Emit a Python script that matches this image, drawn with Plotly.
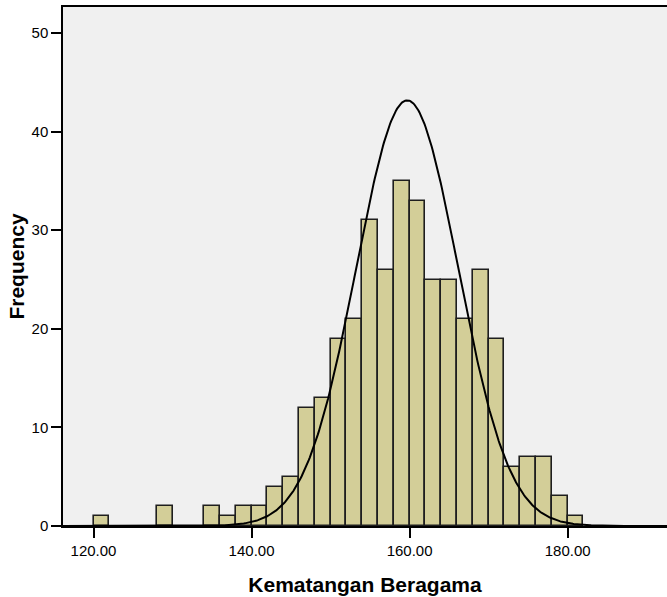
import numpy as np
import plotly.graph_objects as go

# Histogram bins (left edges, width 2) and frequencies
bin_starts = [120, 128, 134, 136, 138, 140, 142, 144, 146, 148, 150, 152, 154,
              156, 158, 160, 162, 164, 166, 168, 170, 172, 174, 176, 178, 180]
frequencies = [1, 2, 2, 1, 2, 2, 4, 5, 12, 13, 19, 21, 31,
               26, 35, 33, 25, 25, 21, 26, 19, 6, 7, 7, 3, 1]
bin_width = 2
x_ticks = [120, 140, 160, 180]
x_tick_labels = ["120.00", "140.00", "160.00", "180.00"]
y_ticks = [0, 10, 20, 30, 40, 50]

# Normal curve parameters (as drawn)
curve_mean = 159.7
curve_sd = 6.45
n_total = sum(frequencies)

centers = [b + bin_width / 2 for b in bin_starts]
xs = np.linspace(116, 193, 600)
ys = n_total * bin_width / (curve_sd * np.sqrt(2 * np.pi)) * np.exp(-0.5 * ((xs - curve_mean) / curve_sd) ** 2)

fig = go.Figure()
fig.add_trace(go.Bar(
    x=centers, y=frequencies, width=[bin_width] * len(centers),
    marker=dict(color="#D3CE98", line=dict(color="#1E1E1E", width=1.6)),
    showlegend=False, hoverinfo="x+y"))
fig.add_trace(go.Scatter(
    x=xs, y=ys, mode="lines", line=dict(color="black", width=2),
    showlegend=False, hoverinfo="skip"))

fig.update_layout(
    width=667, height=597,
    margin=dict(l=63, r=0, t=7, b=71),
    paper_bgcolor="white", plot_bgcolor="#F0F0F0",
    bargap=0,
    font=dict(family="Liberation Sans, Arial, sans-serif", color="black"),
)
fig.update_xaxes(
    range=[116.14, 192.57], tickvals=x_ticks, ticktext=x_tick_labels,
    ticks="outside", ticklen=10, tickwidth=2, tickcolor="black",
    showline=True, linecolor="black", linewidth=1.5, mirror=True,
    showgrid=False, zeroline=False,
    tickfont=dict(size=15, color="black"),
    title=dict(text="<b>Kematangan Beragama</b>", font=dict(size=21, color="black"), standoff=20),
)
fig.update_yaxes(
    range=[0, 52.64], tickvals=y_ticks,
    ticks="outside", ticklen=10, tickwidth=2, tickcolor="black",
    showline=True, linecolor="black", linewidth=1.5, mirror=False,
    showgrid=False, zeroline=False,
    tickfont=dict(size=15, color="black"),
    title=dict(text="<b>Frequency</b>", font=dict(size=21, color="black"), standoff=1),
)
fig.write_html("out.html", config={"displayModeBar": False},
               post_script="document.body.style.margin='0';document.body.style.overflow='hidden';")
